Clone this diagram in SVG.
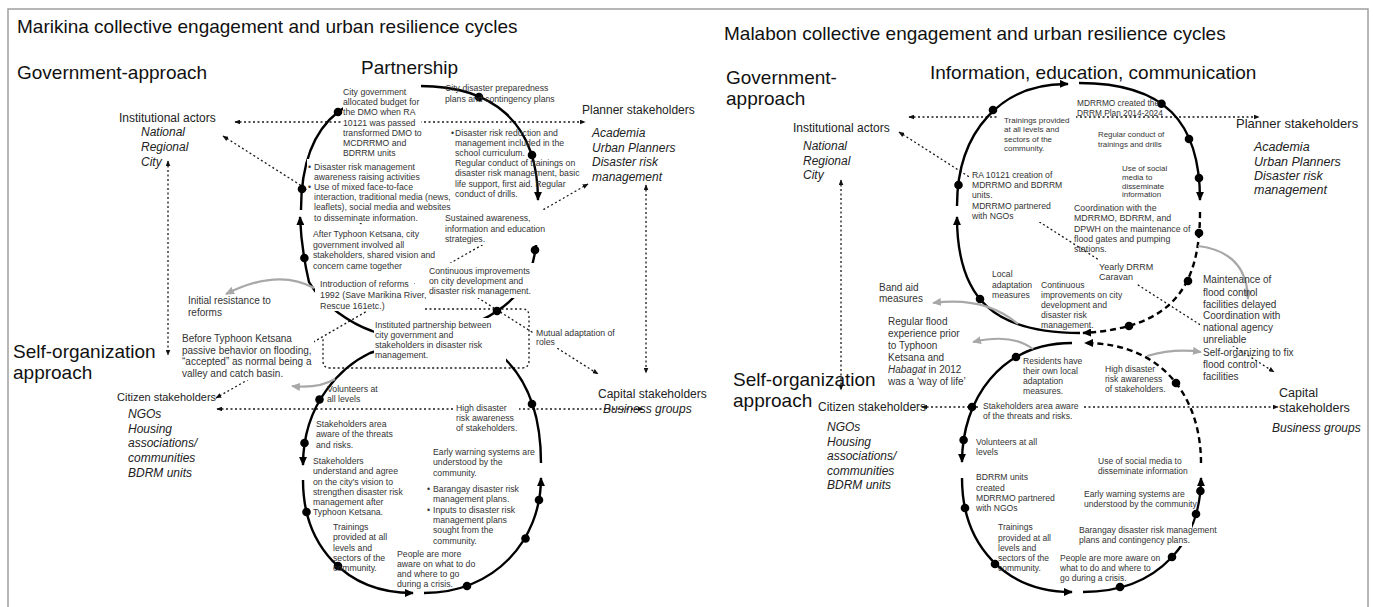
<svg xmlns="http://www.w3.org/2000/svg" width="1373" height="607" viewBox="0 0 1373 607">
<style>
text{font-family:"Liberation Sans",Arial,Helvetica,sans-serif;fill:#333}
.h{font-size:19px;fill:#111}
.lb{font-size:12px;fill:#222}
.lb13{font-size:13px;fill:#222}
.it{font-style:italic}
.s{font-size:8.7px}
.xs{font-size:7.9px}
.m{font-size:10px}
.cyc{fill:none;stroke:#000;stroke-width:2.4}
.dsh{stroke-dasharray:6 4}
.dot{fill:#000}
.con{fill:none;stroke:#1a1a1a;stroke-width:1.3;stroke-dasharray:2 2.5}
.gr{fill:none;stroke:#a8a8a8;stroke-width:2.2}
.bg{fill:#fff}
.frame{fill:none;stroke:#a0a0a0;stroke-width:1.5}
</style>
<defs>
<marker id="ah" viewBox="0 0 10 10" refX="9" refY="5" markerWidth="9" markerHeight="8" orient="auto" markerUnits="userSpaceOnUse" preserveAspectRatio="none"><path d="M0,0 L10,5 L0,10 z" fill="#000"/></marker>
<marker id="sa" viewBox="0 0 10 10" refX="9" refY="5" markerWidth="6" markerHeight="5" orient="auto-start-reverse" markerUnits="userSpaceOnUse" preserveAspectRatio="none"><path d="M0,0 L10,5 L0,10 z" fill="#111"/></marker>
<marker id="ga" viewBox="0 0 10 10" refX="9" refY="5" markerWidth="9" markerHeight="8" orient="auto" markerUnits="userSpaceOnUse" preserveAspectRatio="none"><path d="M0,0 L10,5 L0,10 z" fill="#a8a8a8"/></marker>
</defs>

<rect class="frame" x="8" y="9" width="1360" height="620"/>

<!-- headings -->
<g id="headings">
<text class="h" x="17" y="33">Marikina collective engagement and urban resilience cycles</text>
<text class="h" x="17" y="79">Government-approach</text>
<text class="h" x="361" y="74">Partnership</text>
<text class="h" x="13" y="358">Self-organization</text>
<text class="h" x="13" y="379">approach</text>
<text class="h" x="724" y="40">Malabon collective engagement and urban resilience cycles</text>
<text class="h" x="726" y="84">Government-</text>
<text class="h" x="726" y="104.5">approach</text>
<text class="h" x="930" y="79">Information, education, communication</text>
<text class="h" x="733" y="386">Self-organization</text>
<text class="h" x="733" y="407">approach</text>
</g>

<!-- connectors -->
<g id="connectors">
<!-- Marikina stakeholder links -->
<path class="con" d="M235,122 H585" marker-start="url(#sa)" marker-end="url(#sa)"/>
<path class="con" d="M168,161 V355" marker-start="url(#sa)" marker-end="url(#sa)"/>
<path class="con" d="M223,136 L598,374" marker-start="url(#sa)" marker-end="url(#sa)"/>
<path class="con" d="M588,184 L216,398" marker-start="url(#sa)" marker-end="url(#sa)"/>
<path class="con" d="M646,185 V373" marker-start="url(#sa)" marker-end="url(#sa)"/>
<path class="con" d="M217,409 H643" marker-start="url(#sa)" marker-end="url(#sa)"/>
<path class="con" d="M425,309 H522 Q529,309 529,316 V361 Q529,368 522,368 H330 Q323,368 323,361 V337"/>

<!-- Marikina cycle -->
<path class="cyc" d="M301,210 C301,160 315,130 338,112 C365,92 390,86 420,86 C490,86 538,120 538,200" marker-end="url(#ah)"/>
<path class="cyc" d="M538,210 C538,262 530,290 497,311 C469,332 400,343 370,353 C345,365 303,400 303,465" marker-end="url(#ah)"/>
<path class="cyc" d="M303,480 C303,545 345,593 413,593" marker-end="url(#ah)"/>
<path class="cyc" d="M424,593 C495,593 541,540 541,478" marker-end="url(#ah)"/>
<path class="cyc" d="M541,463 C541,420 530,385 507,361 C484,337 405,345 372,331 C352,324 322,305 309,282 C305,265 301,240 300,217" marker-end="url(#ah)"/>
<g class="dot">
<circle cx="302" cy="189" r="4.3"/><circle cx="338" cy="112" r="4.3"/><circle cx="479" cy="97" r="4.3"/>
<circle cx="532" cy="155" r="4.3"/><circle cx="535" cy="250" r="4.3"/><circle cx="497" cy="311" r="4.3"/>
<circle cx="319.5" cy="399.5" r="4.3"/><circle cx="304.5" cy="443" r="4.3"/><circle cx="306.5" cy="512" r="4.3"/>
<circle cx="338" cy="566" r="4.3"/><circle cx="467" cy="586" r="4.3"/><circle cx="525.5" cy="538.5" r="4.3"/>
<circle cx="539" cy="500" r="4.3"/><circle cx="532" cy="404" r="4.3"/><circle cx="304.4" cy="258" r="4.3"/>
</g>
<path class="gr" d="M314,288 Q278,268 226,294" marker-end="url(#ga)"/>
<path class="gr" d="M335,379 Q318,389 292,386" marker-end="url(#ga)"/>

<!-- Malabon stakeholder links -->
<path class="con" d="M909,117 H1259" marker-start="url(#sa)" marker-end="url(#sa)"/>
<path class="con" d="M841,180 V390" marker-start="url(#sa)" marker-end="url(#sa)"/>
<path class="con" d="M899,132 L1274,372" marker-start="url(#sa)" marker-end="url(#sa)"/>
<path class="con" d="M922,407 H1278" marker-start="url(#sa)" marker-end="url(#sa)"/>

<!-- Malabon cycle -->
<path class="cyc" d="M957,206 C957,130 1003,83 1068,84" marker-end="url(#ah)"/>
<path class="cyc" d="M1079,83 C1165,83 1200,122 1200,200" marker-end="url(#ah)"/>
<path class="cyc dsh" d="M1200,212 C1200,290 1170,328 1083,333" marker-end="url(#ah)"/>
<path class="cyc" d="M1080,333 C995,333 957,300 957,217" marker-end="url(#ah)"/>
<path class="cyc" d="M1072,343 C1000,343 962,400 962,462" marker-end="url(#ah)"/>
<path class="cyc" d="M962,478 C962,545 1005,592 1072,592" marker-end="url(#ah)"/>
<path class="cyc" d="M1083,592 C1160,592 1201,540 1201,478" marker-end="url(#ah)"/>
<path class="cyc dsh" d="M1201,463 C1201,400 1165,343 1085,343" marker-end="url(#ah)"/>
<g class="dot">
<circle cx="958.5" cy="185" r="4.3"/><circle cx="993" cy="110" r="4.3"/><circle cx="1161.5" cy="103.7" r="4.3"/>
<circle cx="1189" cy="139" r="4.3"/><circle cx="1199" cy="178" r="4.3"/><circle cx="1199" cy="233" r="4.3"/>
<circle cx="1188" cy="281" r="4.3"/><circle cx="1129" cy="326" r="4.3"/><circle cx="980" cy="299" r="4.3"/>
<circle cx="1016" cy="357" r="4.3"/><circle cx="972" cy="407" r="4.3"/><circle cx="963.6" cy="440" r="4.3"/>
<circle cx="965" cy="508" r="4.3"/><circle cx="995" cy="564" r="4.3"/><circle cx="1120" cy="587" r="4.3"/>
<circle cx="1172" cy="557" r="4.3"/><circle cx="1196" cy="514" r="4.3"/><circle cx="1200.4" cy="491" r="4.3"/>
<circle cx="1176" cy="383" r="4.3"/>
</g>
<path class="gr" d="M1018,324 Q985,296 933,303" marker-end="url(#ga)"/>
<path class="gr" d="M1033,349 Q1012,333 973,342" marker-end="url(#ga)"/>
<path class="gr" d="M1198,246 Q1247,252 1248,299" marker-end="url(#ga)"/>
<path class="gr" d="M1147,356 Q1175,348 1201,352" marker-end="url(#ga)"/>
</g>

<!-- Marikina stakeholder nodes -->
<g id="mk-institutional">
<text class="lb" x="119" y="122">Institutional actors</text>
<text class="lb it"><tspan x="141" y="136">National</tspan><tspan x="141" y="151">Regional</tspan><tspan x="141" y="166">City</tspan></text>
</g>
<g id="mk-planner">
<text class="lb" x="582" y="114">Planner stakeholders</text>
<text class="lb it"><tspan x="592" y="136.5">Academia</tspan><tspan x="592" y="151.5">Urban Planners</tspan><tspan x="592" y="165.5">Disaster risk</tspan><tspan x="592" y="180.5">management</tspan></text>
</g>
<g id="mk-citizen">
<text class="lb" x="117" y="401" style="font-size:11px">Citizen stakeholders</text>
<text class="lb it"><tspan x="128" y="418">NGOs</tspan><tspan x="128" y="432.5">Housing</tspan><tspan x="128" y="447">associations/</tspan><tspan x="128" y="462">communities</tspan><tspan x="128" y="477">BDRM units</tspan></text>
</g>
<g id="mk-capital">
<text class="lb" x="598" y="398">Capital stakeholders</text>
<text class="lb it" x="603" y="413">Business groups</text>
</g>

<!-- Marikina cycle notes -->
<g id="mk-budget">
<rect class="bg" x="343" y="83" width="78" height="76"/>
<text class="s"><tspan x="343" y="94.5">City government</tspan><tspan x="343" y="105">allocated budget for</tspan><tspan x="343" y="115">the DMO when RA</tspan><tspan x="343" y="125.5">10121 was passed</tspan><tspan x="343" y="135.5">transformed DMO to</tspan><tspan x="343" y="146">MCDRRMO and</tspan><tspan x="343" y="156">BDRRM units</tspan></text>
</g>
<g id="mk-awareness">
<rect class="bg" x="307" y="159" width="146" height="64"/>
<text class="s"><tspan x="308" y="169.5">•</tspan><tspan x="314">Disaster risk management</tspan><tspan x="314" y="179.5">awareness raising activities</tspan><tspan x="308" y="189.5">•</tspan><tspan x="314">Use of mixed face-to-face</tspan><tspan x="314" y="200">interaction, traditional media (news,</tspan><tspan x="314" y="210">leaflets), social media and websites</tspan><tspan x="314" y="220.5">to disseminate information.</tspan></text>
</g>
<g id="mk-after-ketsana">
<rect class="bg" x="311" y="225" width="124" height="48"/>
<text class="s"><tspan x="313" y="237">After Typhoon Ketsana, city</tspan><tspan x="313" y="247.5">government involved all</tspan><tspan x="313" y="258">stakeholders, shared vision and</tspan><tspan x="313" y="268.5">concern came together</tspan></text>
</g>
<g id="mk-preparedness">
<text class="s"><tspan x="445" y="90.5">City disaster preparedness</tspan><tspan x="445" y="101.5">plans and contingency plans</tspan></text>
</g>
<g id="mk-curriculum">
<text class="s"><tspan x="451" y="135.5">•</tspan><tspan x="455">Disaster risk reduction and</tspan><tspan x="455" y="145.5">management included in the</tspan><tspan x="455" y="155.5">school curriculum.</tspan><tspan x="455" y="166">Regular conduct of trainings on</tspan><tspan x="455" y="176">disaster risk management, basic</tspan><tspan x="455" y="186.5">life support, first aid. Regular</tspan><tspan x="455" y="196.5">conduct of drills.</tspan></text>
</g>
<g id="mk-sustained">
<rect class="bg" x="443" y="210" width="104" height="35"/>
<text class="s"><tspan x="445" y="221">Sustained awareness,</tspan><tspan x="445" y="231.5">information and education</tspan><tspan x="445" y="241.5">strategies.</tspan></text>
</g>
<g id="mk-continuous">
<rect class="bg" x="415" y="263" width="127" height="35"/>
<text class="s"><tspan x="429" y="273.5">Continuous improvements</tspan><tspan x="429" y="283.5">on city development and</tspan><tspan x="429" y="293.5">disaster risk management.</tspan></text>
</g>
<g id="mk-reforms">
<rect class="bg" x="315" y="277" width="99" height="34"/>
<text class="s" style="font-size:8.9px"><tspan x="320" y="286.5">Introduction of reforms</tspan><tspan x="320" y="297.5">1992 (Save Marikina River,</tspan><tspan x="320" y="308.5">Rescue 161etc.)</tspan></text>
</g>
<g id="mk-partnership">
<rect class="bg" x="374" y="318" width="132" height="44"/>
<text class="s"><tspan x="375" y="327.5">Instituted partnership between</tspan><tspan x="375" y="337.5">city government and</tspan><tspan x="375" y="348">stakeholders in disaster risk</tspan><tspan x="375" y="358">management.</tspan></text>
</g>
<g id="mk-mutual">
<rect class="bg" x="533" y="326" width="86" height="22"/>
<text class="s"><tspan x="536" y="336">Mutual adaptation of</tspan><tspan x="536" y="345">roles</tspan></text>
</g>
<g id="mk-resistance">
<text class="m"><tspan x="188" y="303.5">Initial resistance to</tspan><tspan x="188" y="315.5">reforms</tspan></text>
</g>
<g id="mk-passive">
<rect class="bg" x="180" y="330" width="134" height="50"/>
<text class="m"><tspan x="182" y="341.5">Before Typhoon Ketsana</tspan><tspan x="182" y="353.5">passive behavior on flooding,</tspan><tspan x="182" y="365">“accepted” as normal being a</tspan><tspan x="182" y="376.5">valley and catch basin.</tspan></text>
</g>
<g id="mk-volunteers">
<text class="s"><tspan x="327" y="391.5">Volunteers at</tspan><tspan x="327" y="401.5">all levels</tspan></text>
</g>
<g id="mk-threats">
<text class="s"><tspan x="316" y="426.5">Stakeholders area</tspan><tspan x="316" y="436.5">aware of the threats</tspan><tspan x="316" y="447.5">and risks.</tspan></text>
</g>
<g id="mk-vision">
<text class="s"><tspan x="313" y="463.5">Stakeholders</tspan><tspan x="313" y="474">understand and agree</tspan><tspan x="313" y="484.5">on the city’s vision to</tspan><tspan x="313" y="494.5">strengthen disaster risk</tspan><tspan x="313" y="504.5">management after</tspan><tspan x="313" y="514.5">Typhoon Ketsana.</tspan></text>
</g>
<g id="mk-trainings">
<text class="s"><tspan x="333" y="529.5">Trainings</tspan><tspan x="333" y="540">provided at all</tspan><tspan x="333" y="550.5">levels and</tspan><tspan x="333" y="560.5">sectors of the</tspan><tspan x="333" y="570.5">community.</tspan></text>
</g>
<g id="mk-people">
<text class="s"><tspan x="397" y="556.5">People are more</tspan><tspan x="397" y="566.5">aware on what to do</tspan><tspan x="397" y="576.5">and where to go</tspan><tspan x="397" y="586.5">during a crisis.</tspan></text>
</g>
<g id="mk-warning">
<text class="s"><tspan x="433" y="454.5">Early warning systems are</tspan><tspan x="433" y="464.5">understood by the</tspan><tspan x="433" y="475.5">community.</tspan></text>
</g>
<g id="mk-barangay">
<text class="s"><tspan x="427" y="491.5">•</tspan><tspan x="433">Barangay disaster risk</tspan><tspan x="433" y="501.5">management plans.</tspan><tspan x="427" y="512.5">•</tspan><tspan x="433">Inputs to disaster risk</tspan><tspan x="433" y="522.5">management plans</tspan><tspan x="433" y="532.5">sought from the</tspan><tspan x="433" y="543.5">community.</tspan></text>
</g>
<g id="mk-high">
<rect class="bg" x="453" y="401" width="66" height="33"/>
<text class="s"><tspan x="456" y="410.5">High disaster</tspan><tspan x="456" y="420.5">risk awareness</tspan><tspan x="456" y="430.5">of stakeholders.</tspan></text>
</g>

<!-- Malabon stakeholder nodes -->
<g id="ml-institutional">
<text class="lb" x="793" y="132">Institutional actors</text>
<text class="lb it"><tspan x="803" y="150">National</tspan><tspan x="803" y="165">Regional</tspan><tspan x="803" y="179">City</tspan></text>
</g>
<g id="ml-planner">
<text class="lb13" x="1236" y="127.5">Planner stakeholders</text>
<text class="lb it" style="font-size:12.5px"><tspan x="1254" y="150.5">Academia</tspan><tspan x="1254" y="165.5">Urban Planners</tspan><tspan x="1254" y="179.5">Disaster risk</tspan><tspan x="1254" y="193.5">management</tspan></text>
</g>
<g id="ml-citizen">
<text class="lb" x="818" y="411">Citizen stakeholders</text>
<text class="lb it"><tspan x="827" y="431">NGOs</tspan><tspan x="827" y="445.5">Housing</tspan><tspan x="827" y="460">associations/</tspan><tspan x="827" y="474.5">communities</tspan><tspan x="827" y="488.5">BDRM units</tspan></text>
</g>
<g id="ml-capital">
<text class="lb" style="font-size:12.5px"><tspan x="1279" y="396.5">Capital</tspan><tspan x="1279" y="411.5">stakeholders</tspan></text>
<text class="lb it" x="1272" y="431.5">Business groups</text>
</g>

<!-- Malabon cycle notes -->
<g id="ml-trainings-top">
<rect class="bg" x="998" y="111" width="78" height="45"/>
<text class="xs" style="font-size:8px"><tspan x="1004" y="122.5">Trainings provided</tspan><tspan x="1004" y="132">at all levels and</tspan><tspan x="1004" y="141.5">sectors of the</tspan><tspan x="1004" y="151">community.</tspan></text>
</g>
<g id="ml-drrm-plan">
<text class="xs" style="font-size:8.3px"><tspan x="1077" y="105.5">MDRRMO created the</tspan><tspan x="1077" y="115.5">DRRM Plan 2014-2024</tspan></text>
</g>
<g id="ml-drills">
<text class="xs"><tspan x="1098" y="136.5">Regular conduct of</tspan><tspan x="1098" y="146.5">trainings and drills</tspan></text>
</g>
<g id="ml-social-top">
<text class="xs"><tspan x="1122" y="171">Use of social</tspan><tspan x="1122" y="180">media to</tspan><tspan x="1122" y="188.5">disseminate</tspan><tspan x="1122" y="197">information</tspan></text>
</g>
<g id="ml-ra10121">
<rect class="bg" x="969" y="166" width="95" height="56"/>
<text class="s" style="font-size:8.6px"><tspan x="972" y="177.5">RA 10121 creation of</tspan><tspan x="972" y="187.5">MDRRMO and BDRRM</tspan><tspan x="972" y="198">units.</tspan><tspan x="972" y="208.5">MDRRMO partnered</tspan><tspan x="972" y="218.5">with NGOs</tspan></text>
</g>
<g id="ml-coordination">
<text class="s" style="font-size:8.8px"><tspan x="1074" y="210.5">Coordination with the</tspan><tspan x="1074" y="220.5">MDRRMO, BDRRM, and</tspan><tspan x="1074" y="231.5">DPWH on the maintenance of</tspan><tspan x="1074" y="241.5">flood gates and pumping</tspan><tspan x="1074" y="251.5">stations.</tspan></text>
</g>
<g id="ml-caravan">
<rect class="bg" x="1098" y="260" width="54" height="24"/>
<text class="s" style="font-size:9px"><tspan x="1099" y="269.5">Yearly DRRM</tspan><tspan x="1099" y="279.5">Caravan</tspan></text>
</g>
<g id="ml-local">
<text class="s" style="font-size:8.6px"><tspan x="992" y="276.5">Local</tspan><tspan x="992" y="287.5">adaptation</tspan><tspan x="992" y="297.5">measures</tspan></text>
</g>
<g id="ml-continuous">
<text class="s" style="font-size:8.6px"><tspan x="1041" y="287.5">Continuous</tspan><tspan x="1041" y="297.5">improvements on city</tspan><tspan x="1041" y="307.5">development and</tspan><tspan x="1041" y="318">disaster risk</tspan><tspan x="1041" y="328">management.</tspan></text>
</g>
<g id="ml-bandaid">
<text class="m"><tspan x="879" y="290.5">Band aid</tspan><tspan x="879" y="301.5">measures</tspan></text>
</g>
<g id="ml-way-of-life">
<text class="m"><tspan x="888" y="325">Regular flood</tspan><tspan x="888" y="337">experience prior</tspan><tspan x="888" y="349">to Typhoon</tspan><tspan x="888" y="361">Ketsana and</tspan><tspan x="888" y="373"><tspan class="it">Habagat</tspan> in 2012</tspan><tspan x="888" y="385">was a ‘way of life’</tspan></text>
</g>
<g id="ml-residents">
<text class="s" style="font-size:8.6px"><tspan x="1023" y="363.5">Residents have</tspan><tspan x="1023" y="373.5">their own local</tspan><tspan x="1023" y="383.5">adaptation</tspan><tspan x="1023" y="393.5">measures.</tspan></text>
</g>
<g id="ml-high">
<text class="s" style="font-size:8.6px"><tspan x="1105" y="371.5">High disaster</tspan><tspan x="1105" y="381.5">risk awareness</tspan><tspan x="1105" y="391.5">of stakeholders.</tspan></text>
</g>
<g id="ml-threats">
<rect class="bg" x="980" y="399" width="104" height="23"/>
<text class="s" style="font-size:8.6px"><tspan x="983" y="408.5">Stakeholders area aware</tspan><tspan x="983" y="418.5">of the threats and risks.</tspan></text>
</g>
<g id="ml-volunteers">
<text class="s" style="font-size:8.6px"><tspan x="976" y="444.5">Volunteers at all</tspan><tspan x="976" y="454.5">levels</tspan></text>
</g>
<g id="ml-bdrrm">
<text class="s" style="font-size:8.6px"><tspan x="976" y="479.5">BDRRM units</tspan><tspan x="976" y="490.5">created</tspan><tspan x="976" y="500.5">MDRRMO partnered</tspan><tspan x="976" y="510.5">with NGOs</tspan></text>
</g>
<g id="ml-trainings">
<text class="s" style="font-size:8.5px"><tspan x="998" y="529.5">Trainings</tspan><tspan x="998" y="540.5">provided at all</tspan><tspan x="998" y="550.5">levels and</tspan><tspan x="998" y="560.5">sectors of the</tspan><tspan x="998" y="570.5">community.</tspan></text>
</g>
<g id="ml-people">
<text class="s" style="font-size:8.5px"><tspan x="1060" y="560.5">People are more aware on</tspan><tspan x="1060" y="570.5">what to do and where to</tspan><tspan x="1060" y="580.5">go during a crisis.</tspan></text>
</g>
<g id="ml-social">
<text class="s" style="font-size:8.5px"><tspan x="1098" y="463.5">Use of social media to</tspan><tspan x="1098" y="473.5">disseminate information</tspan></text>
</g>
<g id="ml-warning">
<text class="s" style="font-size:8.6px"><tspan x="1084" y="496.5">Early warning systems are</tspan><tspan x="1084" y="506.5">understood by the community</tspan></text>
</g>
<g id="ml-barangay">
<rect class="bg" x="1077" y="522" width="115" height="24"/>
<text class="s" style="font-size:8.6px"><tspan x="1079" y="532.5">Barangay disaster risk management</tspan><tspan x="1079" y="542.5">plans and contingency plans.</tspan></text>
</g>
<g id="ml-maintenance">
<text class="m"><tspan x="1203" y="283">Maintenance of</tspan><tspan x="1203" y="295.5">flood control</tspan><tspan x="1203" y="307.5">facilities delayed</tspan></text>
</g>
<g id="ml-agency">
<rect class="bg" x="1200" y="310" width="100" height="36"/>
<text class="m"><tspan x="1203" y="319">Coordination with</tspan><tspan x="1203" y="331">national agency</tspan><tspan x="1203" y="343">unreliable</tspan></text>
</g>
<g id="ml-self-fix">
<text class="m"><tspan x="1203" y="356">Self-organizing to fix</tspan><tspan x="1203" y="368">flood control</tspan><tspan x="1203" y="380">facilities</tspan></text>
</g>
</svg>
